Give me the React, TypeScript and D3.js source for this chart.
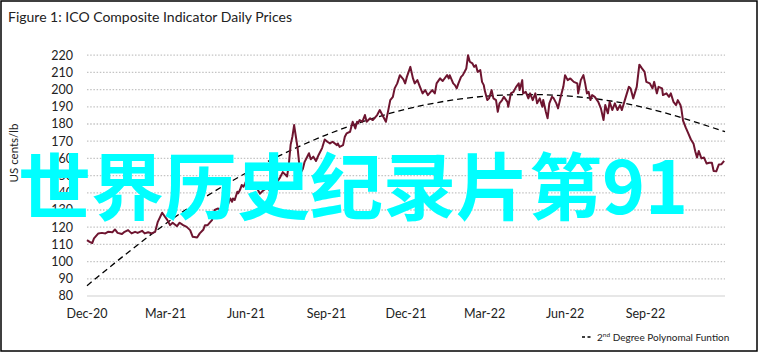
import React from "react";
import * as d3 from "d3";

const W = 762;
const H = 356;

const title = "Figure 1: ICO Composite Indicator Daily Prices";
const yLabel = "US cents/lb";
const overlay = "世界历史纪录片第91";
const legendMain = "2";
const legendSup = "nd";
const legendRest = " Degree Polynomal Funtion";

const yTicks = [80, 90, 100, 110, 120, 130, 140, 150, 160, 170, 180, 190, 200, 210, 220];
const xTickDates = ["2020-12-01", "2021-03-01", "2021-06-01", "2021-09-01", "2021-12-01", "2022-03-01", "2022-06-01", "2022-09-01"];

const priceDates = [
  "2020-12-01","2020-12-04","2020-12-07","2020-12-09","2020-12-14","2020-12-18","2020-12-22","2020-12-25","2020-12-30",
  "2021-01-02","2021-01-05","2021-01-10","2021-01-13","2021-01-17","2021-01-21","2021-01-25","2021-01-28",
  "2021-02-02","2021-02-05","2021-02-09","2021-02-13","2021-02-17","2021-02-20","2021-02-25",
  "2021-03-03","2021-03-06","2021-03-09","2021-03-14","2021-03-17","2021-03-21","2021-03-25","2021-03-29",
  "2021-04-01","2021-04-06","2021-04-09","2021-04-13","2021-04-15","2021-04-18","2021-04-23","2021-04-26","2021-04-30",
  "2021-05-04","2021-05-08","2021-05-11","2021-05-14","2021-05-16","2021-05-17","2021-05-19","2021-05-22","2021-05-23","2021-05-25","2021-05-27","2021-05-29","2021-05-31",
  "2021-06-02","2021-06-05","2021-06-09","2021-06-12","2021-06-17","2021-06-20","2021-06-25","2021-06-28",
  "2021-07-02","2021-07-06","2021-07-10","2021-07-13","2021-07-18","2021-07-20","2021-07-22","2021-07-24","2021-07-26","2021-07-28","2021-07-30",
  "2021-08-01","2021-08-03","2021-08-05","2021-08-07","2021-08-10","2021-08-12","2021-08-14","2021-08-17","2021-08-20","2021-08-23","2021-08-27","2021-08-30",
  "2021-09-02","2021-09-05","2021-09-08","2021-09-13","2021-09-14","2021-09-16","2021-09-20","2021-09-22","2021-09-24","2021-09-28","2021-09-30",
  "2021-10-01","2021-10-04","2021-10-06","2021-10-07","2021-10-09","2021-10-12","2021-10-15","2021-10-17","2021-10-21","2021-10-24","2021-10-29",
  "2021-11-01","2021-11-05","2021-11-08","2021-11-10","2021-11-13","2021-11-16","2021-11-18","2021-11-21","2021-11-24","2021-11-28","2021-11-30",
  "2021-12-02","2021-12-06","2021-12-09","2021-12-11","2021-12-14","2021-12-17","2021-12-20","2021-12-23","2021-12-26","2021-12-31",
  "2022-01-03","2022-01-05","2022-01-09","2022-01-12","2022-01-17","2022-01-19","2022-01-20","2022-01-24","2022-01-26","2022-01-28","2022-01-30",
  "2022-02-02","2022-02-04","2022-02-08","2022-02-10","2022-02-12","2022-02-15","2022-02-17","2022-02-19","2022-02-21","2022-02-24","2022-02-26","2022-02-28",
  "2022-03-01","2022-03-04","2022-03-06","2022-03-09","2022-03-11","2022-03-14","2022-03-16","2022-03-18","2022-03-21","2022-03-23","2022-03-27","2022-03-28","2022-03-31",
  "2022-04-03","2022-04-06","2022-04-09","2022-04-10","2022-04-13","2022-04-14","2022-04-17","2022-04-20","2022-04-22","2022-04-25","2022-04-28","2022-04-30",
  "2022-05-03","2022-05-06","2022-05-07","2022-05-10","2022-05-12","2022-05-14","2022-05-17","2022-05-19","2022-05-22","2022-05-24","2022-05-27","2022-05-30",
  "2022-06-01","2022-06-04","2022-06-07","2022-06-11","2022-06-15","2022-06-16","2022-06-19","2022-06-22","2022-06-24","2022-06-26","2022-06-28","2022-06-30",
  "2022-07-02","2022-07-05","2022-07-09","2022-07-12","2022-07-15","2022-07-17","2022-07-20","2022-07-22","2022-07-25","2022-07-28","2022-07-31",
  "2022-08-03","2022-08-05","2022-08-09","2022-08-13","2022-08-15","2022-08-18","2022-08-22","2022-08-25","2022-08-28","2022-08-31",
  "2022-09-02","2022-09-06","2022-09-09","2022-09-11","2022-09-14","2022-09-16","2022-09-20","2022-09-21","2022-09-25","2022-09-28","2022-09-30",
  "2022-10-03","2022-10-06","2022-10-08","2022-10-11","2022-10-12","2022-10-14","2022-10-17","2022-10-20","2022-10-23","2022-10-26","2022-10-28","2022-10-30",
  "2022-11-01","2022-11-04","2022-11-07","2022-11-10","2022-11-13","2022-11-16","2022-11-18","2022-11-21","2022-11-24","2022-11-27","2022-11-30"
];

const priceValues = [
  112.5,111.5,110.8,113.5,116.4,116.7,116.4,117.3,117,
  118.7,116.7,116,117.3,118.3,116.4,117.3,116.7,
  117.9,116.4,117.1,116.4,117.3,123.1,128.4,
  124.1,121.2,122.6,120.6,122.6,121.2,120.2,118.3,
  114.4,114,116.4,118.5,121.2,121.2,124.1,130,130.9,
  129,131.9,132.8,136.7,134.8,136.7,135.8,140.6,139.7,141.6,144.5,143.5,145.5,
  148,145,143,144,139.5,141,143,141.5,
  140,146,149,152,149.5,157,168,172.6,179.4,172.6,166,
  156,152,154,158,161,163,159.5,161,158.5,162,166,171,
  169.7,168.7,169.7,167.7,168.7,166.7,167.7,172.6,174.5,175.5,179.4,
  181.3,177.4,181.3,180.3,182.3,181.3,185.2,181.3,183.3,182.3,185.2,
  188.1,184.2,181.3,186.2,193.9,195.8,200.7,203.6,208.4,206,203.6,
  207.4,213.2,206.5,203.6,205.5,201.6,197.8,199.7,196.8,199.7,
  197.8,203.6,206.5,205,208.4,206.5,208.4,203.6,202.6,200.7,203.6,
  207.4,208.4,212.3,220,216.2,215.2,213.2,214.2,210.3,211.3,204.5,202.6,
  199.7,193.9,194.9,199.7,194.9,193.9,187.1,192,193.9,195.8,192.9,190,197.8,
  198.7,201.6,203.6,199.7,205.5,197.8,198.7,194.9,197.8,193.9,197.8,192,
  194.9,190,193.9,187.1,183.3,192,195.8,194.9,192,189.1,195.8,201.6,
  208.4,205.5,206.5,204.5,203.6,197.8,205.5,208.4,203.6,197.8,198.7,193.9,
  196.8,195.8,192.9,189.1,182.3,191,186.2,192.9,188.1,192,188.1,
  191,188.1,194.9,201.6,200.7,194.9,201.6,214.5,212.3,210.3,
  204.5,203.6,200.7,204.5,197.8,201.6,200.7,196.8,197.8,195.8,197.8,
  192.9,191,193.9,191,189.1,182,178,174.5,171,168.5,164,160.5,
  164.3,160,160.5,157,157.5,157.5,152.7,152.5,156.5,156.6,158.5
];

const trendDates = ["2020-12-01", "2021-03-01", "2021-06-01", "2021-09-01", "2021-12-01", "2022-03-01", "2022-06-01", "2022-09-01", "2022-12-01"];
const trendValues = [86, 122.0, 151.5, 173.7, 188.6, 196.1, 196.4, 189.4, 175.5];

const parse = d3.timeParse("%Y-%m-%d");

export default function App() {
  const x = d3.scaleTime()
    .domain([parse("2020-12-01")!, parse("2022-12-01")!])
    .range([87, 725]);
  const y = d3.scaleLinear().domain([80, 220]).range([296, 55.2]);

  const prices = priceDates.map((d, i) => ({ date: parse(d)!, value: priceValues[i] }));
  const trend = trendDates.map((d, i) => ({ date: parse(d)!, value: trendValues[i] }));

  const priceLine = d3.line<{ date: Date; value: number }>()
    .x((d) => x(d.date))
    .y((d) => y(d.value))
    .curve(d3.curveLinear);
  const trendLine = d3.line<{ date: Date; value: number }>()
    .x((d) => x(d.date))
    .y((d) => y(d.value))
    .curve(d3.curveNatural);

  const fmt = d3.timeFormat("%b-%y");
  const font = "Lato, 'Open Sans', sans-serif";
  const [x0, x1] = x.range();

  return (
    <svg width={W} height={H} style={{ position: "absolute", left: 0, top: 0, background: "#fff" }}>
      <rect x={0} y={0} width={W} height={H} fill="#fff" />
      <rect x={1} y={1} width={756} height={350} fill="none" stroke="#000" strokeWidth={1.5} />
      <text x={8} y={22} fontFamily={font} fontSize={14} fill="#222">{title}</text>

      {yTicks.map((t) => (
        <g key={t}>
          {t !== 80 && (
            <line x1={x0} x2={x1} y1={y(t)} y2={y(t)} stroke="#c4c4c4" strokeWidth={1.3} strokeDasharray="1.5 1.7" />
          )}
          <text x={73} y={y(t)} dy="0.35em" textAnchor="end" fontFamily={font} fontSize={12.5} fill="#222">{t}</text>
        </g>
      ))}
      <line x1={x0} x2={x1} y1={y(80)} y2={y(80)} stroke="#d0d0d0" strokeWidth={1.2} />

      {xTickDates.map((d) => (
        <text key={d} x={x(parse(d)!)} y={318} textAnchor="middle" fontFamily={font} fontSize={12.5} fill="#222">
          {fmt(parse(d)!)}
        </text>
      ))}

      <text transform={`translate(18,153) rotate(-90)`} textAnchor="middle" fontFamily={font} fontSize={11.5} fill="#222">{yLabel}</text>

      <path d={trendLine(trend) || ""} fill="none" stroke="#000" strokeWidth={1.3} strokeDasharray="6 4" />
      <path d={priceLine(prices) || ""} fill="none" stroke="#6e1530" strokeWidth={2} strokeLinejoin="round" />

      <line x1={582} x2={593} y1={337} y2={337} stroke="#000" strokeWidth={1.3} strokeDasharray="3 2.5" />
      <text x={597} y={340.5} fontFamily={font} fontSize={10} fill="#222">
        {legendMain}
        <tspan fontSize={6.5} dy={-4}>{legendSup}</tspan>
        <tspan dy={4}>{legendRest}</tspan>
      </text>

      <text x={18} y={214} fontFamily="'Noto Sans CJK SC', sans-serif" fontWeight={700} fontSize={73} fill="#00ffff">{overlay}</text>
    </svg>
  );
}
